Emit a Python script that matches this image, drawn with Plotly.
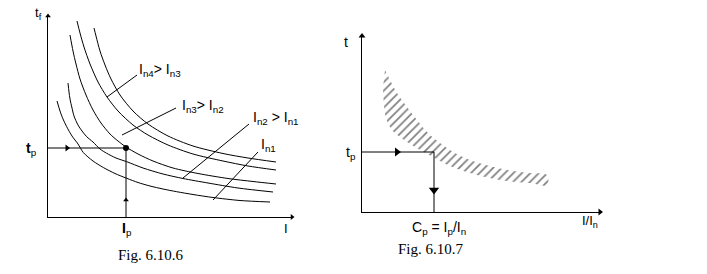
import plotly.graph_objects as go

# ---------------- data (arbitrary units) ----------------
# Fig 6.10.6 : fuse time-current curves, I (x) vs t_f (y)
c1_I = [9, 12, 15, 18.7, 24, 30, 35.3, 45, 55.3, 67, 78.7, 90, 102, 115, 128.7, 145, 165, 192, 222]
c1_t = [116, 106, 98, 90.3, 81, 73, 64.5, 56, 49.5, 43.5, 38.7, 34.5, 31, 28, 25.3, 22.5, 19.5, 16.5, 15]
c2_I = [20, 21, 22, 24, 26, 30, 34, 38.7, 45, 52, 58.7, 68, 78.7, 95, 115, 135, 160, 190, 225]
c2_t = [134, 125, 118, 109, 101, 92, 86, 80.3, 75, 68, 63.7, 59, 55.3, 49, 43, 38.5, 34, 29, 25]
c3_I = [22, 25, 28, 32, 38, 45, 53, 62, 70, 78, 90, 105, 125, 150, 180, 205, 228]
c3_t = [182, 166, 153, 138, 122, 107, 94, 83, 76, 70, 63, 56, 49, 43.5, 38.5, 35.5, 33]
c4_I = [29, 32, 36, 42, 50, 59, 70, 85, 100, 120, 145, 175, 200, 228]
c4_t = [196, 184, 170, 153, 135, 120, 106, 92, 82, 72, 63, 56, 51, 47]
c5_I = [46, 48, 52, 57, 63, 72, 85, 100, 120, 145, 175, 200, 228]
c5_t = [189, 181, 166, 152, 138, 122, 106, 93, 81, 71, 63.5, 59, 55]
curves_I = [c1_I, c2_I, c3_I, c4_I, c5_I]
curves_t = [c1_t, c2_t, c3_t, c4_t, c5_t]

# leader lines (start/end) and their labels
leader_I = [[59, 89], [74, 128], [135, 201], [165, 210]]
leader_t = [[120, 142], [82, 109], [39, 93], [17, 65]]
leader_text = ["I<sub>n4</sub>&gt; I<sub>n3</sub>", "I<sub>n3</sub>&gt; I<sub>n2</sub>",
               "I<sub>n2</sub> &gt; I<sub>n1</sub>", "I<sub>n1</sub>"]
leader_lab_I = [89, 132, 203, 211]
leader_lab_t = [147, 111, 99, 72]

Ip, tp = 78, 69
I_max, t_max = 244, 201

# Fig 6.10.7 : band of characteristics, I/In (x) vs t (y)
band_up_x = [23, 28, 35, 45, 55, 66, 78, 93, 108, 128, 145, 168, 185]
band_up_y = [142, 132, 119, 105, 92, 79, 69, 59, 52, 46, 42, 39, 37]
band_lo_x = [21, 22, 24, 30, 38, 53, 71, 88, 108, 128, 145, 168, 185]
band_lo_y = [124, 107, 94, 82, 75, 65, 55, 46, 39, 34, 31, 29, 27]
Cp, tp2 = 72, 60
r_max, t2_max = 238, 176

# ---------------- figure ----------------
W, H = 707, 274
fig = go.Figure()
blk = "black"
L = dict(color=blk, width=1)

for xs, ys in zip(curves_I, curves_t):
    fig.add_trace(go.Scatter(x=xs, y=ys, mode="lines", line=dict(color=blk, width=1, shape="spline", smoothing=0.8),
                             xaxis="x", yaxis="y", hoverinfo="skip"))
for xs, ys in zip(leader_I, leader_t):
    fig.add_trace(go.Scatter(x=xs, y=ys, mode="lines", line=L, xaxis="x", yaxis="y", hoverinfo="skip"))

# tp / Ip guide lines
fig.add_trace(go.Scatter(x=[0, Ip, Ip], y=[tp, tp, 0], mode="lines", line=L, xaxis="x", yaxis="y"))
fig.add_trace(go.Scatter(x=[Ip], y=[tp], mode="markers", marker=dict(symbol="circle", size=6, color=blk),
                         xaxis="x", yaxis="y", cliponaxis=False))
fig.add_trace(go.Scatter(x=[19], y=[tp], mode="markers", marker=dict(symbol="triangle-right", size=6, color=blk),
                         xaxis="x", yaxis="y", cliponaxis=False))
fig.add_trace(go.Scatter(x=[Ip], y=[17], mode="markers", marker=dict(symbol="triangle-up", size=5, color=blk),
                         xaxis="x", yaxis="y", cliponaxis=False))
# axis end markers
fig.add_trace(go.Scatter(x=[0], y=[t_max], mode="markers", marker=dict(symbol="triangle-up", size=5, color=blk),
                         xaxis="x", yaxis="y", cliponaxis=False))
fig.add_trace(go.Scatter(x=[I_max], y=[0], mode="markers", marker=dict(symbol="triangle-right", size=5, color=blk),
                         xaxis="x", yaxis="y", cliponaxis=False))

# right figure: hatched band
fig.add_trace(go.Scatter(x=band_up_x + band_lo_x[::-1], y=band_up_y + band_lo_y[::-1], mode="lines",
                         fill="toself", fillcolor="rgba(0,0,0,0)", line=dict(width=0, shape="spline"),
                         fillpattern=dict(shape="/", fgcolor=blk, bgcolor="rgba(0,0,0,0)", size=6, solidity=0.28),
                         xaxis="x2", yaxis="y2", hoverinfo="skip"))
fig.add_trace(go.Scatter(x=[0, Cp, Cp], y=[tp2, tp2, 0], mode="lines", line=L, xaxis="x2", yaxis="y2"))
fig.add_trace(go.Scatter(x=[35], y=[tp2], mode="markers", marker=dict(symbol="triangle-right", size=8, color=blk),
                         xaxis="x2", yaxis="y2", cliponaxis=False))
fig.add_trace(go.Scatter(x=[Cp], y=[22], mode="markers", marker=dict(symbol="triangle-down", size=9, color=blk),
                         xaxis="x2", yaxis="y2", cliponaxis=False))
fig.add_trace(go.Scatter(x=[0], y=[t2_max], mode="markers", marker=dict(symbol="triangle-up", size=6, color=blk),
                         xaxis="x2", yaxis="y2", cliponaxis=False))
fig.add_trace(go.Scatter(x=[r_max], y=[0], mode="markers", marker=dict(symbol="triangle-right", size=6, color=blk),
                         xaxis="x2", yaxis="y2", cliponaxis=False))

sans = "Liberation Sans"
serif = "Liberation Serif"
ann = []
def T(x, y, text, xr="x", yr="y", size=13, fam=sans, xa="center"):
    ann.append(dict(x=x, y=y, xref=xr, yref=yr, text=text, showarrow=False, xanchor=xa, yanchor="middle",
                    font=dict(family=fam, size=size, color=blk)))
def P(px, py, text, size=13, fam=sans):
    T(px / W, 1 - py / H, text, xr="paper", yr="paper", size=size, fam=fam)

for tx, lx, ly in zip(leader_text, leader_lab_I, leader_lab_t):
    T(lx, ly, tx, xa="left", size=14)
P(38, 13, "t<sub>f</sub>")
P(31, 149, "<b>t</b><sub>p</sub>", size=14)
P(127, 229, "<b>I</b><sub>p</sub>", size=14)
P(286, 228, "I")
P(151, 255, "Fig. 6.10.6", size=15, fam=serif)

P(346, 42, "t", size=14)
P(351, 153, "t<sub>p</sub>", size=14)
P(439, 228, "C<sub>p</sub> = I<sub>p</sub>/I<sub>n</sub>", size=14)
P(590, 221, "I/I<sub>n</sub>")
P(431, 249, "Fig. 6.10.7", size=15, fam=serif)

ax_common = dict(showgrid=False, zeroline=False, showticklabels=False, ticks="", showline=True,
                 linecolor=blk, linewidth=1, fixedrange=True)
fig.update_layout(
    width=W, height=H, margin=dict(l=0, r=0, t=0, b=0),
    paper_bgcolor="white", plot_bgcolor="white", showlegend=False,
    xaxis=dict(domain=[48 / W, 292 / W], range=[0, I_max], anchor="y", **ax_common),
    yaxis=dict(domain=[(H - 217) / H, (H - 16) / H], range=[0, t_max], anchor="x", **ax_common),
    xaxis2=dict(domain=[362 / W, 600 / W], range=[0, r_max], anchor="y2", **ax_common),
    yaxis2=dict(domain=[(H - 212) / H, (H - 36) / H], range=[0, t2_max], anchor="x2", **ax_common),
    annotations=ann,
)
fig.write_html("out.html")
